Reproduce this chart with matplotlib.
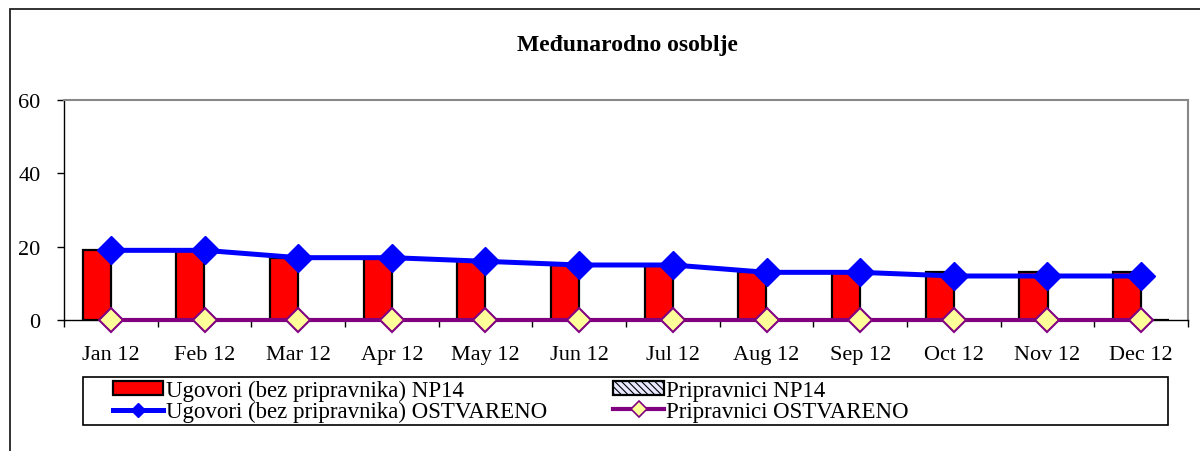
import matplotlib

matplotlib.use("Agg")
import matplotlib.pyplot as plt
import numpy as np
from matplotlib.lines import Line2D
from matplotlib.patches import Rectangle

months = ["Jan 12", "Feb 12", "Mar 12", "Apr 12", "May 12", "Jun 12",
          "Jul 12", "Aug 12", "Sep 12", "Oct 12", "Nov 12", "Dec 12"]
ugovori_np14 = [19, 19, 17, 17, 16, 15, 15, 13, 13, 13, 13, 13]
pripravnici_np14 = [0, 0, 0, 0, 0, 0, 0, 0, 0, 0, 0, 0]
ugovori_ostvareno = [19, 19, 17, 17, 16, 15, 15, 13, 13, 12, 12, 12]
pripravnici_ostvareno = [0, 0, 0, 0, 0, 0, 0, 0, 0, 0, 0, 0]
y_ticks = [0, 20, 40, 60]

plt.rcParams["font.family"] = ["Liberation Serif", "DejaVu Serif"]
plt.rcParams["hatch.color"] = "#6666cc"
plt.rcParams["hatch.linewidth"] = 0.8

W, H = 1200, 452
fig = plt.figure(figsize=(W / 100, H / 100), dpi=100)
ax = fig.add_axes([64 / W, 1 - 321 / H, (1188 - 64) / W, 220 / H])

# outer chart frame, running off the right and bottom edges
fig.patches.append(Rectangle((10 / W, -0.1), 1.1, 1.1 - 10 / H,
                             transform=fig.transFigure, fill=False,
                             edgecolor="#222222", linewidth=1.3))
# legend box
fig.patches.append(Rectangle((83 / W, 1 - 426 / H), (1168 - 83) / W, 48 / H,
                             transform=fig.transFigure, fill=False,
                             edgecolor="black", linewidth=1.2))

x = np.arange(len(months))
width = 0.3
b1 = ax.bar(x - width / 2, ugovori_np14, width, color="#ff0000",
            edgecolor="black", linewidth=1.6, zorder=2)
b2 = ax.bar(x + width / 2, pripravnici_np14, width, color="#e8e8ff",
            edgecolor="black", linewidth=1.6, hatch="\\\\\\\\\\", zorder=1)
ax.plot(x, ugovori_ostvareno, color="#0000ff", linewidth=3.6,
        marker="D", markersize=14, markerfacecolor="#0000ff",
        markeredgecolor="#0000ff", zorder=4, clip_on=False)
ax.plot(x, pripravnici_ostvareno, color="#800080", linewidth=3,
        marker="D", markersize=12, markerfacecolor="#ffff99",
        markeredgecolor="#800080", markeredgewidth=1.5, zorder=5,
        clip_on=False)

ax.set_xlim(-0.5, len(months) - 0.5)
ax.set_ylim(0, 60)
ax.set_yticks(y_ticks)
ax.set_xticks(x, months)
ax.set_xticks(np.arange(len(months) + 1) - 0.5, minor=True)
ax.tick_params(axis="x", which="major", length=0, pad=18, labelsize=16)
ax.tick_params(axis="x", which="minor", length=5, width=1, direction="out")
ax.tick_params(axis="y", length=5, width=1, direction="out", pad=12, labelsize=16)

for side in ("top", "right"):
    ax.spines[side].set_color("#888888")
    ax.spines[side].set_linewidth(1.5)
for side in ("left", "bottom"):
    ax.spines[side].set_color("black")
    ax.spines[side].set_linewidth(1)

fig.text(0.523, 1 - 45 / H, "Međunarodno osoblje", ha="center", va="center",
         fontsize=17, fontweight="bold")

# legend line handles with smaller markers than the plotted ones
h_blue = Line2D([], [], color="#0000ff", linewidth=3.6, marker="D",
                markersize=7, markerfacecolor="#0000ff", markeredgecolor="#0000ff")
h_purple = Line2D([], [], color="#800080", linewidth=3, marker="D",
                  markersize=8.5, markerfacecolor="#ffff99",
                  markeredgecolor="#800080", markeredgewidth=1.2)

fig.legend([b1, h_blue, b2, h_purple],
           ["Ugovori (bez pripravnika) NP14",
            "Ugovori (bez pripravnika) OSTVARENO",
            "Pripravnici NP14",
            "Pripravnici OSTVARENO"],
           ncol=2, loc="center left",
           bbox_to_anchor=(113 / W, 1 - 402 / H),
           fontsize=16.5, frameon=False, borderpad=0,
           labelspacing=0.0, handlelength=2.2, handletextpad=0.1,
           handleheight=0.55, borderaxespad=0, columnspacing=2.9)

fig.savefig("out.png", dpi=100)
